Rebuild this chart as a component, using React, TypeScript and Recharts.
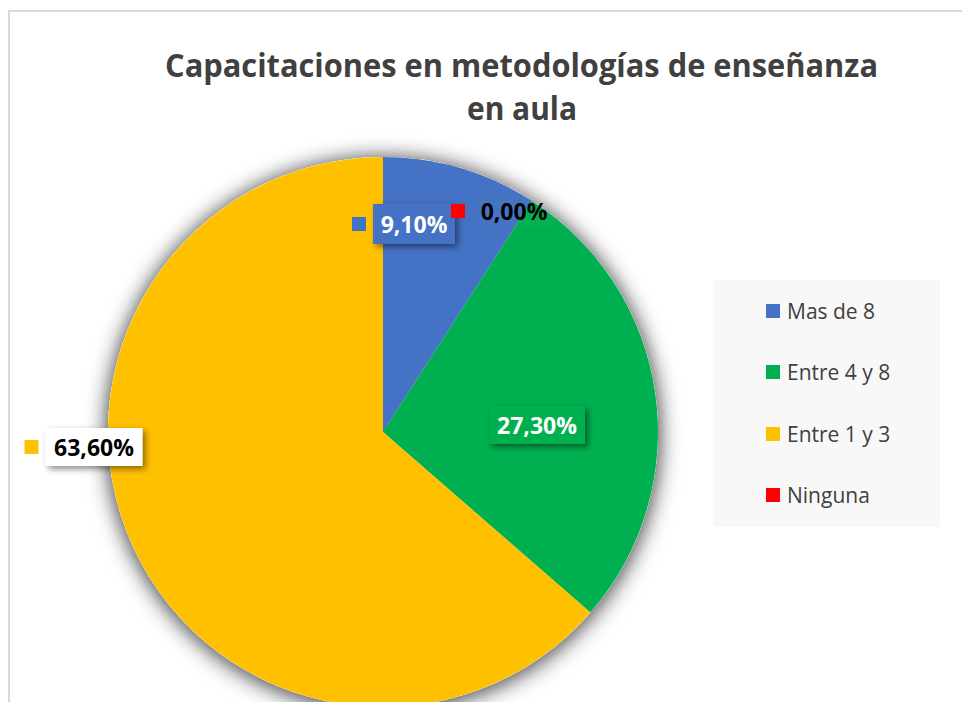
import { Cell, Legend, Pie, PieChart } from "recharts"

const categories = ["Mas de 8", "Entre 4 y 8", "Entre 1 y 3", "Ninguna"]
const percentages = [9.1, 27.3, 63.6, 0]
const colors = ["#4472C4", "#00B050", "#FFC000", "#FF0000"]
const titleLines = ["Capacitaciones en metodologías de enseñanza", "en aula"]

const data = categories.map((name, i) => ({ name, value: percentages[i] }))

// where Excel dropped each data label, relative to the pie centre
const labelPlacement: Record<
  string,
  { dx: number; dy: number; w: number; h: number; box: string | null; text: string }
> = {
  "Mas de 8": { dx: 31, dy: -208, w: 82, h: 40, box: "#4472C4", text: "#ffffff" },
  "Entre 4 y 8": { dx: 154, dy: -7, w: 96, h: 38, box: "#00B050", text: "#ffffff" },
  "Entre 1 y 3": { dx: -289, dy: 15, w: 97, h: 38, box: "#ffffff", text: "#000000" },
  Ninguna: { dx: 131, dy: -221, w: 84, h: 34, box: null, text: "#000000" },
}

const formatPct = (v: number) => `${v.toFixed(2).replace(".", ",")}%`

function DataLabel(props: any) {
  const { cx, cy, name, value, fill } = props
  const spec = labelPlacement[name]
  if (!spec) return null
  const x = cx + spec.dx
  const y = cy + spec.dy
  return (
    <g>
      <rect
        x={x - spec.w / 2}
        y={y - spec.h / 2}
        width={spec.w}
        height={spec.h}
        fill={spec.box ?? "rgba(255,255,255,0.01)"}
        filter="url(#lblShadow)"
      />
      <rect x={x - spec.w / 2 - 21} y={y - 7} width={14} height={14} fill={fill} />
      <text
        x={x}
        y={y}
        textAnchor="middle"
        dominantBaseline="central"
        fill={spec.text}
        fontFamily="'Open Sans', sans-serif"
        fontWeight={700}
        fontSize={23}
      >
        {formatPct(value)}
      </text>
    </g>
  )
}

function LegendBox({ payload }: any) {
  const seen = new Set<string>()
  const items = (payload ?? [])
    .filter((p: any) => p.type !== "none" && p.color !== "#ffffff")
    .filter((p: any) => !seen.has(p.value) && seen.add(p.value))
    .sort((a: any, b: any) => categories.indexOf(a.value) - categories.indexOf(b.value))
  return (
    <div
      style={{
        width: "100%",
        height: "100%",
        background: "#f8f8f8",
        fontFamily: "'Open Sans', sans-serif",
        fontSize: 21,
        color: "#404040",
      }}
    >
      {items.map((it: any) => (
        <div
          key={it.value}
          style={{ height: 61.5, display: "flex", alignItems: "center", paddingLeft: 53 }}
        >
          <span
            style={{ width: 14, height: 14, background: it.color, marginRight: 7, flex: "none" }}
          />
          <span>{it.value}</span>
        </div>
      ))}
    </div>
  )
}

export default function App() {
  return (
    <div
      style={{
        position: "fixed",
        left: 0,
        top: 0,
        width: 962,
        height: 702,
        overflow: "hidden",
        background: "#fff",
      }}
    >
      <style>{`.pie-shadow { filter: url(#pieShadow); }`}</style>
      <svg width={0} height={0} style={{ position: "absolute" }}>
        <defs>
          <filter id="pieShadow" x="-20%" y="-20%" width="140%" height="140%">
            <feDropShadow dx={0} dy={2} stdDeviation={10} floodColor="#000" floodOpacity={0.45} />
          </filter>
          <filter id="lblShadow" x="-30%" y="-30%" width="160%" height="160%">
            <feDropShadow dx={3} dy={3} stdDeviation={3} floodColor="#000" floodOpacity={0.45} />
          </filter>
        </defs>
      </svg>
      <div
        style={{
          position: "absolute",
          left: 8,
          top: 10,
          width: 1000,
          height: 800,
          border: "2px solid #d9d9d9",
        }}
      />
      <svg
        width={962}
        height={140}
        style={{ position: "absolute", left: 0, top: 0 }}
        fontFamily="'Open Sans', sans-serif"
        fontWeight={700}
        fontSize={33}
        fill="#404040"
      >
        <text x={165} y={77} textLength={713} lengthAdjust="spacingAndGlyphs">
          {titleLines[0]}
        </text>
        <text x={467} y={120} textLength={110} lengthAdjust="spacingAndGlyphs">
          {titleLines[1]}
        </text>
      </svg>
      <div style={{ position: "absolute", left: 0, top: 0 }}>
        <PieChart width={962} height={702} margin={{ top: 0, right: 0, bottom: 0, left: 0 }}>
          <Pie
            className="pie-shadow"
            data={data}
            dataKey="value"
            nameKey="name"
            cx={383}
            cy={432}
            outerRadius={275}
            startAngle={90}
            endAngle={-270}
            stroke="none"
            fill="#ffffff"
            legendType="none"
            isAnimationActive={false}
          />
          <Pie
            data={data}
            dataKey="value"
            nameKey="name"
            cx={383}
            cy={432}
            outerRadius={275}
            startAngle={90}
            endAngle={-270}
            stroke="none"
            label={DataLabel}
            labelLine={false}
            legendType="square"
            isAnimationActive={false}
          >
            {data.map((d, i) => (
              <Cell key={d.name} fill={colors[i]} />
            ))}
          </Pie>
          <Legend
            layout="vertical"
            align="center"
            verticalAlign="middle"
            content={<LegendBox />}
            wrapperStyle={{ left: 713, top: 280, width: 227, height: 247 }}
          />
        </PieChart>
      </div>
    </div>
  )
}
